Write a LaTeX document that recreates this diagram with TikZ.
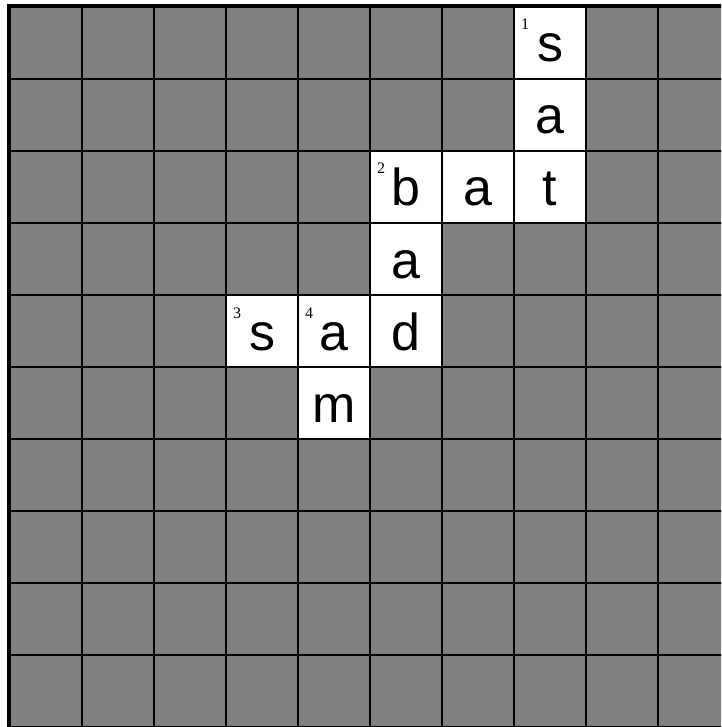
\documentclass[tikz,border=0pt]{standalone}
\usepackage{fontspec}
\setmainfont{Liberation Serif}
\newfontfamily\lettfont{Liberation Sans}
\begin{document}
\begin{tikzpicture}[x=1pt,y=-1pt,
  letter/.style={anchor=base,inner sep=0pt,font=\lettfont\fontsize{52}{52}\selectfont},
  clue/.style={anchor=base west,inner sep=0pt,font=\fontsize{16}{16}\selectfont},
  whitecell/.style={fill=white},
  gridline/.style={line width=2.5pt,black},
  borderline/.style={line width=4pt,black}]
\useasboundingbox (0,0) rectangle (721,727);
\begin{scope}
\clip (0,0) rectangle (721,727);
\fill[gray] (10,7) rectangle (730,727);
% white cells: col,row
\foreach \c/\r in {7/0,7/1,5/2,6/2,7/2,5/3,3/4,4/4,5/4,4/5}
  \fill[whitecell] ({10+72*\c},{7+72*\r}) rectangle ++(72,72);
\foreach \k in {1,...,10} {
  \draw[gridline] ({10+72*\k},7) -- ({10+72*\k},727);
  \draw[gridline] (10,{7+72*\k}) -- (730,{7+72*\k});
}
\draw[borderline] (9,729) -- (9,6) -- (730,6);
\end{scope}
% letters
\node[letter] (s1) at ({10+72*7+36},{7+72*0+55}) {s};
\node[letter] (a1) at ({10+72*7+36},{7+72*1+55}) {a};
\node[letter] (b2) at ({10+72*5+36},{7+72*2+55}) {b};
\node[letter] (a2) at ({10+72*6+36},{7+72*2+55}) {a};
\node[letter] (t2) at ({10+72*7+36},{7+72*2+55}) {t};
\node[letter] (a3) at ({10+72*5+36},{7+72*3+55}) {a};
\node[letter] (s3) at ({10+72*3+36},{7+72*4+55}) {s};
\node[letter] (a4) at ({10+72*4+36},{7+72*4+55}) {a};
\node[letter] (d4) at ({10+72*5+36},{7+72*4+55}) {d};
\node[letter] (m5) at ({10+72*4+36},{7+72*5+55}) {m};
% clue numbers
\node[clue] (n1) at ({10+72*7+7},{7+72*0+23}) {1};
\node[clue] (n2) at ({10+72*5+7},{7+72*2+23}) {2};
\node[clue] (n3) at ({10+72*3+7},{7+72*4+23}) {3};
\node[clue] (n4) at ({10+72*4+7},{7+72*4+23}) {4};
\end{tikzpicture}
\end{document}
